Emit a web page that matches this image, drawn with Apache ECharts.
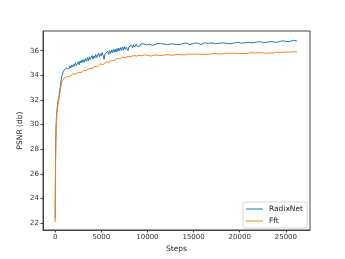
<!DOCTYPE html>
<html><head><meta charset="utf-8">
<script src="https://cdn.jsdelivr.net/npm/echarts@6/dist/echarts.min.js"></script>
<style>html,body{margin:0;padding:0;background:#fff}#c{width:345px;height:259px}</style>
</head><body><div id="c"></div>
<script>
var steps = [0,50,100,150,200,300,400,500,600,700,800,900,1000,
1100,1200,1300,1400,1500,1600,1700,1800,1900,2000,
2100,2200,2300,2400,2500,2600,2700,2800,2900,3000,
3100,3200,3300,3400,3500,3600,3700,3800,3900,4000,
4100,4200,4300,4400,4500,4600,4700,4800,4900,5000,
5100,5200,5300,5400,5500,5600,5700,5800,5900,6000,
6100,6200,6300,6400,6500,6600,6700,6800,6900,7000,
7100,7200,7300,7400,7500,7600,7700,7800,7900,8000,
8100,8200,8300,8400,8500,8600,8700,8800,8900,9000,
9100,9200,9300,9400,9500,9600,9700,9800,9900,10000,
10200,10400,10600,10800,11000,
11200,11400,11600,11800,12000,12200,12400,12600,12800,13000,
13200,13400,13600,13800,14000,14200,14400,14600,14800,15000,
15200,15400,15600,15800,16000,16200,16400,16600,16800,17000,
17200,17400,17600,17800,18000,18200,18400,18600,18800,19000,
19200,19400,19600,19800,20000,20200,20400,20600,20800,21000,
21200,21400,21600,21800,22000,22200,22400,22600,22800,23000,
23200,23400,23600,23800,24000,24200,24400,24600,24800,25000,
25200,25400,25600,25800,26000,26200];
var radixNet = [22.4,28.0,30.0,30.7,31.2,31.9,32.2,32.8,33.3,33.9,34.1,34.35,34.5,
34.38,34.6,34.45,34.7,34.52,34.78,34.6,34.85,34.68,34.92,
34.75,35.02,34.8,34.95,35.1,34.86,35.18,35.0,35.25,35.05,
35.3,35.08,35.35,35.15,35.45,35.2,35.5,35.28,35.42,35.6,
35.32,35.58,35.4,35.7,35.45,35.62,35.8,35.5,35.75,35.58,
35.85,35.62,35.3,35.75,35.9,35.68,35.95,35.7,36.0,35.78,
36.05,35.82,36.1,35.88,36.12,35.9,36.18,35.95,36.22,36.0,
36.25,36.02,36.3,36.05,36.35,36.1,36.28,36.4,36.0,36.32,
36.38,36.2,36.45,36.25,36.5,36.3,36.42,36.52,36.35,36.45,
36.5,36.38,36.55,36.42,36.5,36.56,36.44,36.52,36.47,36.55,
36.52,36.58,36.44,36.5,36.56,
36.5,36.6,36.47,36.53,36.58,36.5,36.44,36.56,36.6,36.52,
36.55,36.48,36.6,36.57,36.5,36.62,36.54,36.49,36.58,36.6,
36.53,36.62,36.57,36.5,36.6,36.64,36.55,36.59,36.52,36.63,
36.6,36.56,36.66,36.61,36.57,36.64,36.68,36.59,36.62,36.57,
36.66,36.62,36.58,36.69,36.64,36.6,36.7,36.65,36.61,36.68,
36.72,36.63,36.67,36.7,36.62,36.73,36.68,36.65,36.74,36.69,
36.66,36.75,36.7,36.68,36.78,36.71,36.74,36.8,36.69,36.76,
36.82,36.73,36.77,36.85,36.75,36.79];
var fft = [22.1,27.0,29.0,30.2,31.0,31.6,32.0,32.5,33.0,33.4,33.6,33.7,33.8,
33.85,33.78,33.92,33.86,34.0,33.92,34.06,33.98,34.12,34.05,
34.15,34.08,34.2,34.12,34.25,34.18,34.3,34.22,34.38,34.3,
34.4,34.32,34.46,34.38,34.52,34.42,34.58,34.5,34.62,34.55,
34.66,34.58,34.72,34.64,34.8,34.7,34.86,34.76,34.92,34.84,
34.96,34.88,35.02,34.94,35.08,35.0,35.14,35.06,35.2,35.1,
35.22,35.14,35.28,35.2,35.32,35.24,35.38,35.3,35.4,35.34,
35.44,35.36,35.48,35.4,35.5,35.44,35.56,35.46,35.54,35.5,
35.58,35.5,35.6,35.53,35.62,35.55,35.6,35.56,35.63,35.58,
35.62,35.57,35.64,35.59,35.63,35.6,35.66,35.58,35.64,35.62,
35.66,35.57,35.61,35.65,35.6,
35.63,35.68,35.6,35.64,35.69,35.62,35.66,35.7,35.63,35.67,
35.7,35.65,35.68,35.73,35.66,35.7,35.74,35.67,35.71,35.69,
35.73,35.68,35.72,35.76,35.7,35.74,35.71,35.77,35.72,35.75,
35.78,35.72,35.75,35.79,35.73,35.77,35.8,35.74,35.78,35.76,
35.8,35.75,35.79,35.82,35.76,35.8,35.78,35.83,35.77,35.81,
35.84,35.78,35.81,35.79,35.85,35.8,35.83,35.86,35.79,35.84,
35.82,35.87,35.81,35.85,35.88,35.83,35.86,35.82,35.89,35.85,
35.88,35.84,35.9,35.87,35.92,35.88];
var xTicks = [0,5000,10000,15000,20000,25000];
var yTicks = [22,24,26,28,30,32,34,36];

function pairs(ys){ return steps.map(function(s,i){ return [s, ys[i]]; }); }

var font = 'DejaVu Sans';
var chart = echarts.init(document.getElementById('c'), null, {renderer:'canvas'});
chart.setOption({
  animation:false,
  grid:{left:43, right:35, top:31, bottom:29, show:true, borderColor:'#444', borderWidth:1},
  legend:{
    orient:'vertical', right:38, top:202,
    data:['RadixNet','Fft'],
    itemWidth:17, itemHeight:6, itemGap:4,
    icon:'path://M0,2.5L17,2.5L17,3.5L0,3.5Z',
    backgroundColor:'#fff', borderColor:'#d6d6d6', borderWidth:1, borderRadius:2,
    padding:[3,4,3,3],
    textStyle:{fontFamily:font, fontSize:7.5, color:'#222', padding:[0,0,0,1]}
  },
  xAxis:{
    type:'value', min:-1315, max:27615,
    name:'Steps', nameLocation:'middle', nameGap:15, nameMoveOverlap:false,
    nameTextStyle:{fontFamily:font, fontSize:7.5, color:'#222'},
    axisLine:{show:true, onZero:false, lineStyle:{color:'#444', width:1}},
    axisTick:{show:true, length:2.5, customValues:xTicks, lineStyle:{color:'#444'}},
    axisLabel:{customValues:xTicks, fontFamily:font, fontSize:7, color:'#333', margin:4,
      formatter:function(v){ return String(Math.round(v)); }},
    splitLine:{show:false}
  },
  yAxis:{
    type:'value', min:21.457, max:37.598,
    name:'PSNR (db)', nameLocation:'middle', nameGap:19, nameRotate:90, nameMoveOverlap:false,
    nameTextStyle:{fontFamily:font, fontSize:7.5, color:'#222'},
    axisLine:{show:true, onZero:false, lineStyle:{color:'#444', width:1}},
    axisTick:{show:true, length:2.5, customValues:yTicks, lineStyle:{color:'#444'}},
    axisLabel:{customValues:yTicks, fontFamily:font, fontSize:7, color:'#333', margin:4,
      formatter:function(v){ return String(Math.round(v)); }},
    splitLine:{show:false}
  },
  series:[
    {name:'RadixNet', type:'line', data:pairs(radixNet), showSymbol:false, symbol:'none',
     lineStyle:{color:'#1f77b4', width:1}, itemStyle:{color:'#1f77b4'}},
    {name:'Fft', type:'line', data:pairs(fft), showSymbol:false, symbol:'none',
     lineStyle:{color:'#ff7f0e', width:1}, itemStyle:{color:'#ff7f0e'}}
  ]
});
</script></body></html>
